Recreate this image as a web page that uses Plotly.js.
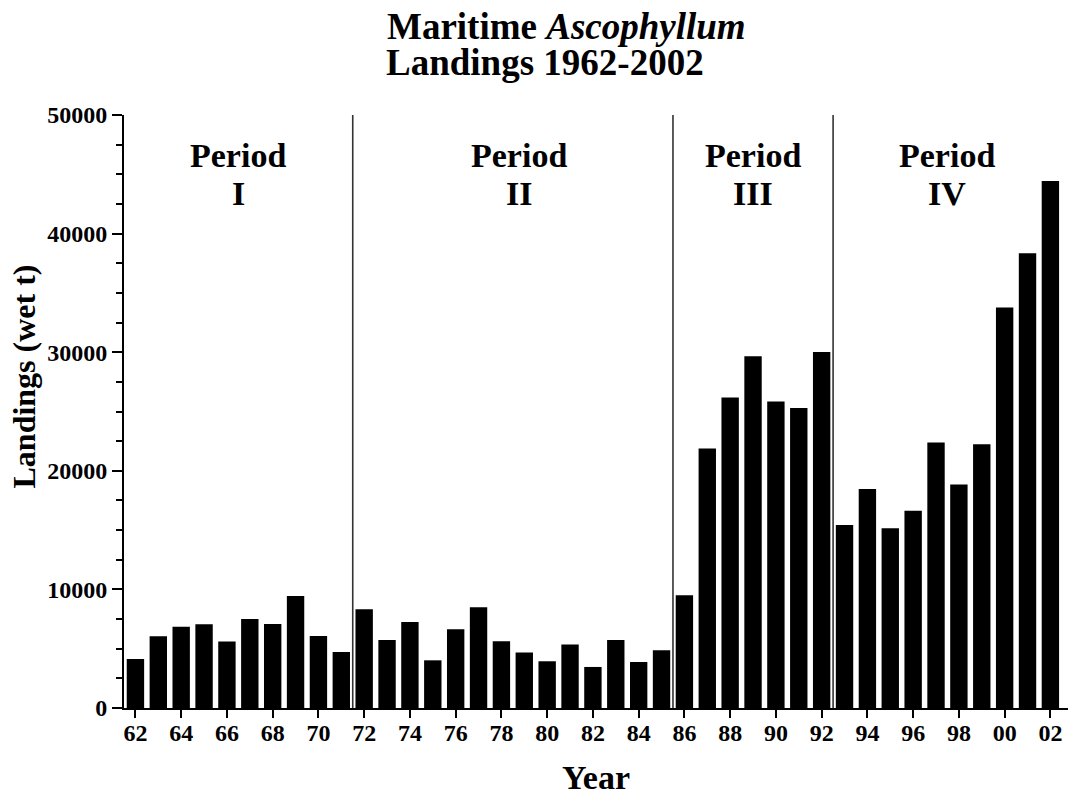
<!DOCTYPE html>
<html>
<head>
<meta charset="utf-8">
<script src="https://cdn.plot.ly/plotly-3.0.1.min.js"></script>
<style>html,body{margin:0;padding:0;background:#fff;}#chart{width:1068px;height:799px;}</style>
</head>
<body>
<div id="chart"></div>
<script>
// Years (two-digit, continued past 99 so the axis stays linear)
var years = [62,63,64,65,66,67,68,69,70,71,72,73,74,75,76,77,78,79,80,81,82,
             83,84,85,86,87,88,89,90,91,92,93,94,95,96,97,98,99,100,101,102];
// Landings (wet t)
var landings = [4130,6050,6860,7060,5600,7500,7080,9440,6070,4720,8320,5730,7250,
                4020,6640,8490,5620,4670,3940,5350,3460,5730,3880,4870,9500,21870,
                26170,29650,25840,25300,30020,15430,18470,15150,16640,22380,18840,
                22230,33760,38340,44440];
var tickVals = [62,64,66,68,70,72,74,76,78,80,82,84,86,88,90,92,94,96,98,100,102];
var tickText = ["62","64","66","68","70","72","74","76","78","80","82","84","86",
                "88","90","92","94","96","98","00","02"];
var dividers = [71.5, 85.5, 92.5];
var periodNames = ["I","II","III","IV"];
var periodCenters = [66.5, 78.75, 89, 97.5];

var FONT = "Liberation Serif, Times New Roman, serif";

var trace = {
  type: "bar",
  x: years,
  y: landings,
  width: 0.76,
  marker: {color: "#000000", line: {width: 0}},
  hoverinfo: "x+y"
};

var shapes = dividers.map(function (d) {
  return {type: "line", xref: "x", yref: "y", x0: d, x1: d, y0: 0, y1: 50000,
          line: {color: "#333333", width: 1.6}};
});

var annotations = [];
periodNames.forEach(function (n, i) {
  annotations.push({xref: "x", yref: "paper", x: periodCenters[i], y: 0.931,
    text: "<b>Period</b>", showarrow: false, xanchor: "center", yanchor: "middle",
    font: {family: FONT, size: 34, color: "#000"}});
  annotations.push({xref: "x", yref: "paper", x: periodCenters[i], y: 0.867,
    text: "<b>" + n + "</b>", showarrow: false, xanchor: "center", yanchor: "middle",
    font: {family: FONT, size: 34, color: "#000"}});
});
annotations.push({xref: "paper", yref: "paper", x: (384 - 124) / 944, y: (708 - 63) / 593,
  text: "<b>Landings 1962-2002</b>", showarrow: false, xanchor: "left", yanchor: "middle",
  font: {family: FONT, size: 37, color: "#000"}});
annotations.push({xref: "paper", yref: "paper", x: (24 - 124) / 944, y: 0.559,
  text: "<b>Landings (wet t)</b>", showarrow: false, textangle: -90,
  xanchor: "center", yanchor: "middle",
  font: {family: FONT, size: 32, color: "#000"}});

var layout = {
  width: 1068, height: 799,
  margin: {l: 124, r: 0, t: 115, b: 91, pad: 0},
  paper_bgcolor: "#ffffff", plot_bgcolor: "#ffffff",
  showlegend: false,
  font: {family: FONT, color: "#000"},
  title: {text: "<b>Maritime <i>Ascophyllum</i></b>", xref: "container", yref: "container",
          x: 387 / 1068, xanchor: "left", y: 1 - 26 / 799, yanchor: "middle",
          font: {family: FONT, size: 37, color: "#000"}},
  xaxis: {
    range: [61.5, 102.77], showgrid: false, zeroline: false,
    showline: true, linecolor: "#000", linewidth: 2,
    tickmode: "array", tickvals: tickVals, ticktext: tickText,
    ticks: "outside", ticklen: 8, tickwidth: 2, tickcolor: "#000",
    ticklabelstandoff: -6,
    tickfont: {family: FONT, size: 24, color: "#000", weight: "bold"},
    title: {text: "<b>Year</b>", font: {family: FONT, size: 34, color: "#000"}, standoff: 20}
  },
  yaxis: {
    range: [0, 50000], showgrid: false, zeroline: false,
    showline: true, linecolor: "#000", linewidth: 2,
    tickmode: "linear", tick0: 0, dtick: 10000, tickformat: "d",
    ticks: "outside", ticklen: 10, tickwidth: 2, tickcolor: "#000",
    tickfont: {family: FONT, size: 24, color: "#000", weight: "bold"},
    minor: {dtick: 2500, ticks: "outside", ticklen: 6, tickwidth: 2, tickcolor: "#000", showgrid: false}
  },
  bargap: 0.24,
  shapes: shapes,
  annotations: annotations
};

Plotly.newPlot("chart", [trace], layout, {displayModeBar: false, staticPlot: true});
</script>
</body>
</html>
